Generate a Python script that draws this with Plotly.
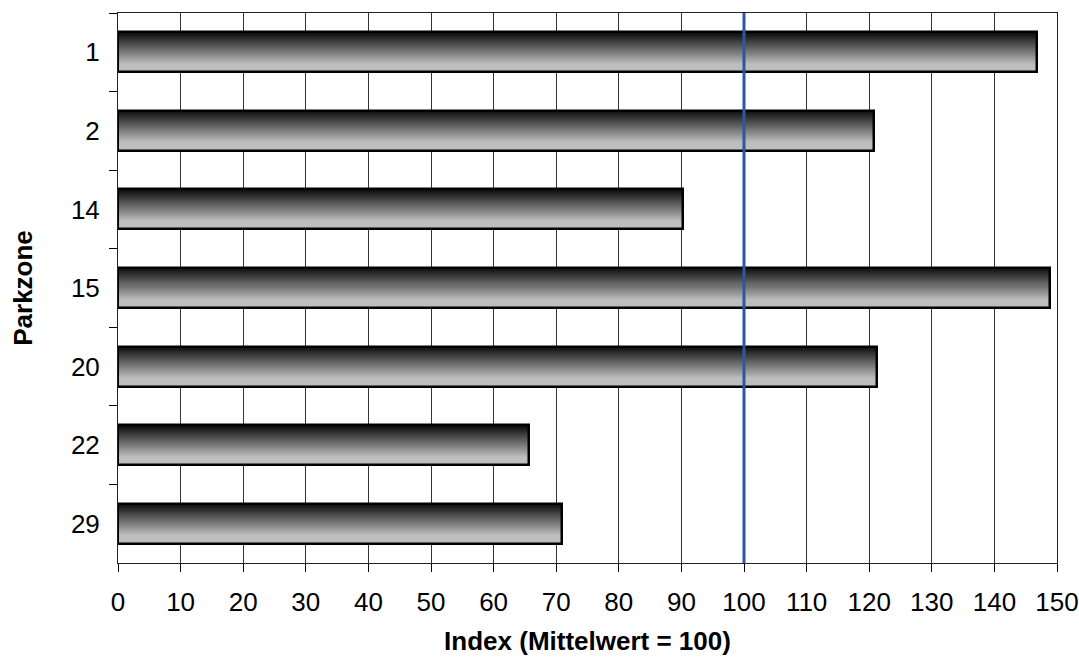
import plotly.graph_objects as go

zones = ["1", "2", "14", "15", "20", "22", "29"]
index_values = [146.8, 120.8, 90.2, 148.9, 121.3, 65.7, 70.9]
mean_value = 100
x_ticks = list(range(0, 151, 10))

BAR_W = 0.51
N = 40
fig = go.Figure()

def shade(t):
    # dark at top -> light gray at bottom
    t2 = min(1.0, t / 0.8)
    v = int(8 + (190 - 8) * t2)
    return f"rgb({v},{v},{v})"

for i in range(N):
    fig.add_trace(go.Bar(
        x=index_values, y=zones, orientation="h",
        width=BAR_W / N + 0.002, offset=-BAR_W / 2 + i * BAR_W / N,
        marker=dict(color=shade((i + 0.5) / N), line=dict(width=0)),
        showlegend=False, hoverinfo="skip"))

fig.add_trace(go.Bar(
    x=index_values, y=zones, orientation="h",
    width=BAR_W, offset=-BAR_W / 2,
    marker=dict(color="rgba(0,0,0,0)", line=dict(color="black", width=2.5)),
    showlegend=False))

fig.add_shape(type="line", x0=mean_value, x1=mean_value, y0=0, y1=1,
              xref="x", yref="paper", line=dict(color="#3353a6", width=3),
              layer="above")

font = "Liberation Sans, Arial, sans-serif"
FS = 26
fig.update_layout(
    width=1079, height=657,
    margin=dict(l=118, r=22, t=13, b=94),
    paper_bgcolor="white", plot_bgcolor="white",
    barmode="overlay", bargap=0,
    font=dict(family=font, color="black", size=FS),
    xaxis=dict(range=[0, 150], tickvals=x_ticks, ticktext=[str(v) for v in x_ticks],
               showgrid=True, gridcolor="#333", gridwidth=1, automargin=False,
               ticks="outside", ticklen=8, tickcolor="black",
               showline=True, linecolor="#222", linewidth=1, mirror=True,
               zeroline=False, tickfont=dict(size=FS), ticklabelstandoff=8,
               title=dict(text="<b>Index (Mittelwert = 100)</b>", font=dict(size=FS), standoff=15)),
    yaxis=dict(type="category", categoryorder="array", categoryarray=zones,
               autorange="reversed", tickson="boundaries", automargin=False,
               ticks="outside", ticklen=8, tickcolor="black",
               showgrid=False, showline=True, linecolor="#222", linewidth=1, mirror=True,
               tickfont=dict(size=FS), ticklabelstandoff=12,
               title=dict(text="<b>Parkzone</b>", font=dict(size=FS), standoff=30)),
)

fig.write_html("out.html")
